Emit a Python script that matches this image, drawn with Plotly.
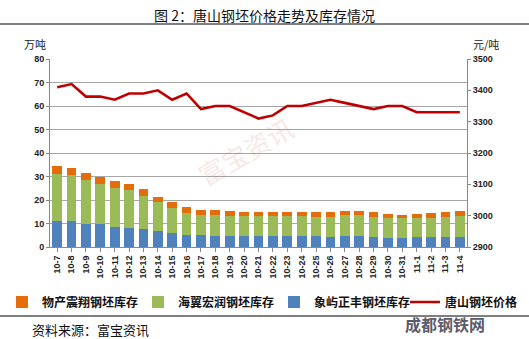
import plotly.graph_objects as go

categories = ["10-7", "10-8", "10-9", "10-10", "10-11", "10-12", "10-13", "10-14", "10-15",
              "10-16", "10-17", "10-18", "10-19", "10-20", "10-21", "10-22", "10-23", "10-24",
              "10-25", "10-26", "10-27", "10-28", "10-29", "10-30", "10-31", "11-1", "11-2",
              "11-3", "11-4"]

# 象屿正丰钢坯库存 (万吨)
xiangyu = [11.0, 11.0, 10.0, 9.7, 8.6, 8.0, 7.5, 6.8, 5.8, 5.1, 5.1, 4.8, 4.8, 4.5, 4.5,
           4.5, 4.5, 4.5, 4.5, 4.1, 4.5, 4.5, 4.1, 3.8, 3.8, 4.1, 4.1, 4.1, 4.1]
# 海翼宏润钢坯库存 (万吨)
haiyi = [20.1, 19.8, 18.7, 17.3, 16.3, 16.4, 14.3, 12.2, 11.0, 9.4, 8.7, 8.7, 8.4, 8.7, 8.6,
         8.9, 8.6, 8.6, 8.2, 8.6, 9.0, 9.3, 8.6, 8.5, 8.5, 8.2, 8.3, 8.6, 9.3]
# 物产震翔钢坯库存 (万吨)
wuchan = [3.3, 3.0, 3.0, 3.0, 3.0, 2.6, 2.7, 2.1, 2.4, 2.5, 2.1, 2.1, 2.2, 1.9, 2.0,
          1.7, 2.0, 1.7, 2.1, 2.1, 1.9, 1.7, 2.1, 1.9, 1.5, 1.9, 2.1, 2.1, 2.0]
# 唐山钢坯价格 (元/吨)
price = [3410, 3420, 3380, 3380, 3370, 3390, 3390, 3400, 3370, 3390, 3340, 3350, 3350, 3330,
         3310, 3320, 3350, 3350, 3360, 3370, 3360, 3350, 3340, 3350, 3350, 3330, 3330, 3330, 3330]

left_ticks = [0, 10, 20, 30, 40, 50, 60, 70, 80]
right_ticks = [2900, 3000, 3100, 3200, 3300, 3400, 3500]

W, H = 529, 339
L, R, T, B = 50, 62, 59, 92
pw, ph = W - L - R, H - T - B

def px(x):
    return (x - L) / pw

def py(y):
    return (H - B - y) / ph

fig = go.Figure()
fig.add_trace(go.Bar(x=categories, y=xiangyu, name="象屿正丰钢坯库存",
                     marker=dict(color="#4F81BD", line=dict(width=0)), legendrank=3))
fig.add_trace(go.Bar(x=categories, y=haiyi, name="海翼宏润钢坯库存",
                     marker=dict(color="#9BBB59", line=dict(width=0)), legendrank=2))
fig.add_trace(go.Bar(x=categories, y=wuchan, name="物产震翔钢坯库存",
                     marker=dict(color="#E46C0A", line=dict(width=0)), legendrank=1))
fig.add_trace(go.Scatter(x=categories, y=price, name="唐山钢坯价格", yaxis="y2", legend="legend2",
                         mode="lines", line=dict(color="#C00000", width=2.6)))

font_cjk = "Noto Sans CJK SC, Noto Sans, sans-serif"
tfont = dict(family="Liberation Sans, Arial, sans-serif", size=9, color="#222222", weight="bold")
lfont = dict(family=font_cjk, size=12, color="#111111", weight="bold")

fig.update_layout(
    width=W, height=H,
    margin=dict(l=L, r=R, t=T, b=B, autoexpand=False),
    paper_bgcolor="white", plot_bgcolor="white",
    barmode="stack", bargap=0.32,
    showlegend=True,
    legend=dict(orientation="h", x=px(2), xanchor="left", y=py(302), yanchor="middle",
                traceorder="normal", font=lfont,
                itemwidth=30, entrywidth=91, entrywidthmode="pixels",
                tracegroupgap=0, bgcolor="rgba(0,0,0,0)"),
    legend2=dict(orientation="h", x=px(405), xanchor="left", y=py(302), yanchor="middle",
                 font=lfont, itemwidth=30, bgcolor="rgba(0,0,0,0)"),
    xaxis=dict(type="category", tickangle=-90, tickfont=tfont,
               showline=True, linecolor="#888888", linewidth=1,
               ticks="outside", ticklen=4, tickcolor="#888888", showgrid=False),
    yaxis=dict(range=[0, 80], tickvals=left_ticks, showgrid=True, gridcolor="#A6A6A6", gridwidth=1,
               showline=True, linecolor="#888888", linewidth=1, ticks="outside", ticklen=3,
               tickcolor="#888888", zeroline=False, tickfont=tfont),
    yaxis2=dict(range=[2900, 3500], tickvals=right_ticks, overlaying="y", side="right",
                showgrid=False, showline=True, linecolor="#888888", linewidth=1, ticks="outside",
                ticklen=3, tickcolor="#888888", zeroline=False, tickfont=tfont),
)

annotations = [
    dict(text="图 2：唐山钢坯价格走势及库存情况", x=px(264), y=py(15), xref="paper", yref="paper",
         showarrow=False, font=dict(family=font_cjk, size=14, color="#111111"),
         xanchor="center", yanchor="middle"),
    dict(text="万吨", x=px(22), y=py(44), xref="paper", yref="paper", showarrow=False,
         font=dict(family=font_cjk, size=11, color="#222222"), xanchor="left", yanchor="middle"),
    dict(text="元/吨", x=px(471), y=py(44), xref="paper", yref="paper", showarrow=False,
         font=dict(family=font_cjk, size=11, color="#222222"), xanchor="left", yanchor="middle"),
    dict(text="资料来源：富宝资讯", x=px(30), y=py(329), xref="paper", yref="paper", showarrow=False,
         font=dict(family=font_cjk, size=13, color="#111111"), xanchor="left", yanchor="middle"),
    dict(text="富宝资讯", x=px(245), y=py(150), xref="paper", yref="paper", showarrow=False,
         textangle=-30, font=dict(family=font_cjk, size=26, color="rgba(200,110,110,0.18)"),
         xanchor="center", yanchor="middle"),
    dict(text="<b>成都钢铁网</b>", x=px(445), y=py(324), xref="paper", yref="paper", showarrow=False,
         font=dict(family=font_cjk, size=16, color="rgba(60,60,80,0.85)"),
         xanchor="center", yanchor="middle"),
]
fig.update_layout(annotations=annotations)

fig.update_layout(shapes=[
    dict(type="line", xref="paper", yref="paper", x0=px(0), x1=px(W), y0=py(24), y1=py(24),
         line=dict(color="#000000", width=1)),
    dict(type="line", xref="paper", yref="paper", x0=px(0), x1=px(W), y0=py(316), y1=py(316),
         line=dict(color="#000000", width=1)),
])

fig.write_html("out.html")
